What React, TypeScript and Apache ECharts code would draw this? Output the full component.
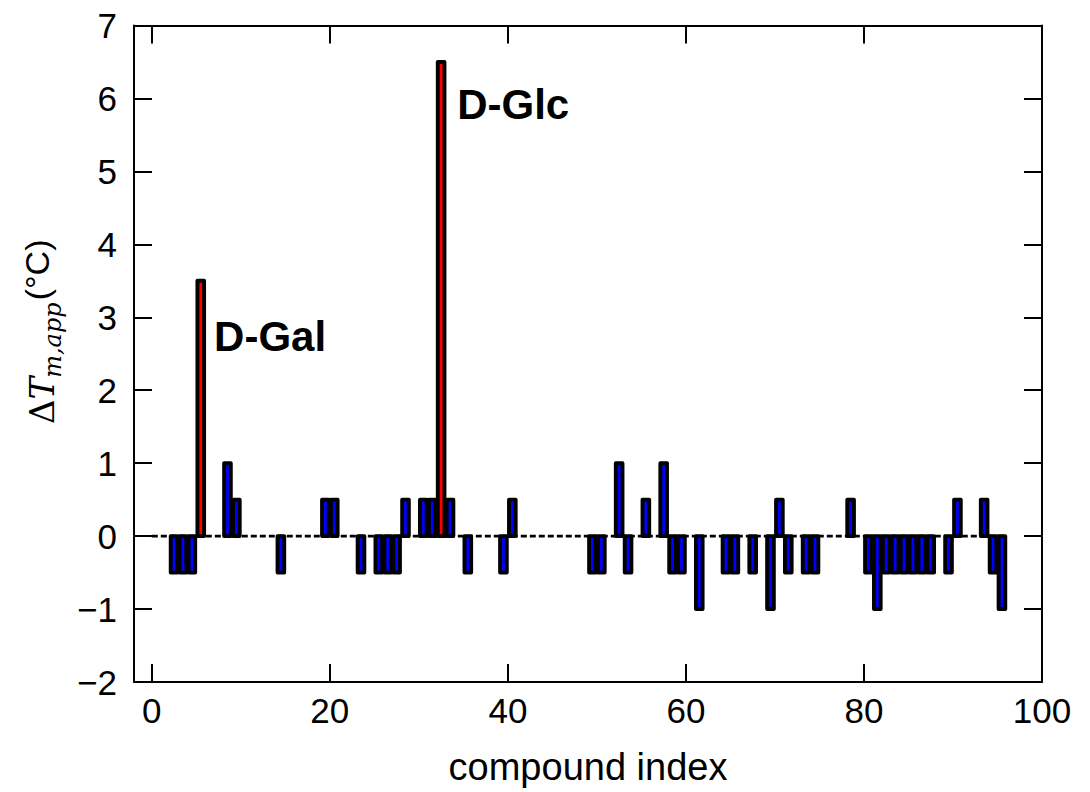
import React, { useEffect, useRef } from "react";
import * as echarts from "echarts";

// ---- data ----
// compound index (left edge of its unit bin) and measured ΔTm,app (°C)
const compoundIndex = [
  2, 3, 4, 5, 8, 9, 14, 19, 20, 23, 25, 26, 27, 28, 30, 31, 32, 33, 35, 39, 40,
  49, 50, 52, 53, 55, 57, 58, 59, 61, 64, 65, 67, 69, 70, 71, 73, 74, 78, 80,
  81, 82, 83, 84, 85, 86, 87, 89, 90, 93, 94, 95,
];
const deltaTm = [
  -0.5, -0.5, -0.5, 3.5, 1, 0.5, -0.5, 0.5, 0.5, -0.5, -0.5, -0.5, -0.5, 0.5,
  0.5, 0.5, 6.5, 0.5, -0.5, -0.5, 0.5, -0.5, -0.5, 1, -0.5, 0.5, 1, -0.5, -0.5,
  -1, -0.5, -0.5, -0.5, -1, 0.5, -0.5, -0.5, -0.5, 0.5, -0.5, -1, -0.5, -0.5,
  -0.5, -0.5, -0.5, -0.5, -0.5, 0.5, 0.5, -0.5, -1,
];
const highlightIndex = [5, 32];
const highlightLabel = ["D-Gal", "D-Glc"];
const baselineRange = [0, 96];
const xTicks = [0, 20, 40, 60, 80, 100];
const yTicks = [-2, -1, 0, 1, 2, 3, 4, 5, 6, 7];

// ---- layout ----
const labelDx = [1.5, 1.8];
const labelDy = [-0.77, -0.58];
const BAR_HALF = 0.375;
const SANS = "'Liberation Sans', Arial, Helvetica, sans-serif";
const SERIF = "'DejaVu Serif', 'Liberation Serif', serif";

function measure(text: string, font: string): number {
  const c = document.createElement("canvas").getContext("2d");
  if (!c) return text.length * 10;
  c.font = font;
  return c.measureText(text).width;
}

const frameLine = { show: true, onZero: false, lineStyle: { color: "#000", width: 2 } };
const frameTick = (custom?: number[]) => ({
  show: true,
  inside: true,
  length: 18,
  ...(custom ? { customValues: custom } : {}),
  lineStyle: { color: "#000", width: 2 },
});

export default function App() {
  const ref = useRef<HTMLDivElement>(null);
  useEffect(() => {
    if (!ref.current) return;
    const chart = echarts.init(ref.current, undefined, { renderer: "svg" });

    const barData = compoundIndex.map((c, k) => {
      const h = highlightIndex.indexOf(c);
      return [c, deltaTm[k], h];
    });

    // y-axis name pieces
    const mainSize = 34;
    const subSize = 24;
    const unitSize = 34;
    const wDelta = measure("Δ", `${mainSize}px ${SERIF}`);
    const wT = measure("T", `italic ${mainSize}px ${SERIF}`);
    const wSub = measure("m,app", `italic ${subSize}px ${SERIF}`);
    const mid = (fs: number, base: number) => base - 0.35 * fs;

    const option: any = {
      animation: false,
      backgroundColor: "#ffffff",
      grid: {
        left: 134,
        right: 48,
        top: 25.5,
        bottom: 110,
        containLabel: false,
        outerBoundsMode: "none",
      },
      xAxis: [
        {
          type: "value",
          min: -2,
          max: 100,
          position: "bottom",
          axisLine: frameLine,
          axisTick: frameTick(xTicks),
          axisLabel: {
            customValues: xTicks,
            fontSize: 35,
            fontFamily: SANS,
            color: "#000",
            margin: 11,
          },
          splitLine: { show: false },
          name: "compound index",
          nameLocation: "middle",
          nameGap: 66,
          nameTextStyle: { fontSize: 38, fontFamily: SANS, color: "#000" },
        },
        {
          type: "value",
          min: -2,
          max: 100,
          position: "top",
          axisLine: frameLine,
          axisTick: frameTick(xTicks),
          axisLabel: { show: false },
          splitLine: { show: false },
        },
      ],
      yAxis: [
        {
          type: "value",
          min: yTicks[0],
          max: yTicks[yTicks.length - 1],
          interval: 1,
          position: "left",
          axisLine: frameLine,
          axisTick: frameTick(),
          axisLabel: {
            fontSize: 35,
            fontFamily: SANS,
            color: "#000",
            margin: 17,
            formatter: (v: number) => (v < 0 ? "\u2212" + Math.abs(v) : String(v)),
          },
          splitLine: { show: false },
        },
        {
          type: "value",
          min: yTicks[0],
          max: yTicks[yTicks.length - 1],
          interval: 1,
          position: "right",
          axisLine: frameLine,
          axisTick: frameTick(),
          axisLabel: { show: false },
          splitLine: { show: false },
        },
      ],
      series: [
        {
          type: "line",
          xAxisIndex: 0,
          yAxisIndex: 0,
          data: [
            [baselineRange[0], 0],
            [baselineRange[1], 0],
          ],
          symbol: "none",
          lineStyle: { color: "#000", width: 2.8, type: [6, 3] },
          z: 1,
        },
        {
          type: "custom",
          xAxisIndex: 0,
          yAxisIndex: 0,
          data: barData,
          z: 2,
          renderItem: (params: any, api: any) => {
            const c = api.value(0);
            const v = api.value(1);
            const h = api.value(2);
            const p0 = api.coord([c + 0.5 - BAR_HALF, 0]);
            const p1 = api.coord([c + 0.5 + BAR_HALF, v]);
            const rect = {
              type: "rect",
              shape: {
                x: Math.min(p0[0], p1[0]),
                y: Math.min(p0[1], p1[1]),
                width: Math.abs(p1[0] - p0[0]),
                height: Math.abs(p1[1] - p0[1]),
              },
              style: {
                fill: h >= 0 ? "#ff0000" : "#0000ff",
                stroke: "#000",
                lineWidth: 3.9,
                lineJoin: "round",
              },
            };
            if (h < 0) return rect;
            const tp = api.coord([c + 0.5 + labelDx[h], v + labelDy[h]]);
            return {
              type: "group",
              children: [
                rect,
                {
                  type: "text",
                  x: tp[0],
                  y: tp[1],
                  style: {
                    text: highlightLabel[h],
                    font: `bold 42px ${SANS}`,
                    fill: "#000",
                    align: "left",
                    verticalAlign: "middle",
                  },
                },
              ],
            };
          },
        },
      ],
      graphic: [
        {
          type: "group",
          x: 54,
          y: 424,
          rotation: Math.PI / 2,
          children: [
            {
              type: "text",
              x: 0,
              y: mid(mainSize, 0),
              style: {
                text: "Δ",
                font: `${mainSize}px ${SERIF}`,
                fill: "#000",
                align: "left",
                verticalAlign: "middle",
              },
            },
            {
              type: "text",
              x: wDelta,
              y: mid(mainSize, 0),
              style: {
                text: "T",
                font: `italic ${mainSize}px ${SERIF}`,
                fill: "#000",
                align: "left",
                verticalAlign: "middle",
              },
            },
            {
              type: "text",
              x: wDelta + wT - 1,
              y: mid(subSize, 7),
              style: {
                text: "m,app",
                font: `italic ${subSize}px ${SERIF}`,
                fill: "#000",
                align: "left",
                verticalAlign: "middle",
              },
            },
            {
              type: "text",
              x: wDelta + wT + wSub + 1,
              y: mid(unitSize, -5),
              style: {
                text: "(°C)",
                font: `${unitSize}px ${SANS}`,
                fill: "#000",
                align: "left",
                verticalAlign: "middle",
              },
            },
          ],
        },
      ],
    };

    chart.setOption(option);
    return () => chart.dispose();
  }, []);

  return (
    <div
      ref={ref}
      style={{
        position: "fixed",
        left: 0,
        top: 0,
        width: 1090,
        height: 792,
        background: "#fff",
      }}
    />
  );
}
